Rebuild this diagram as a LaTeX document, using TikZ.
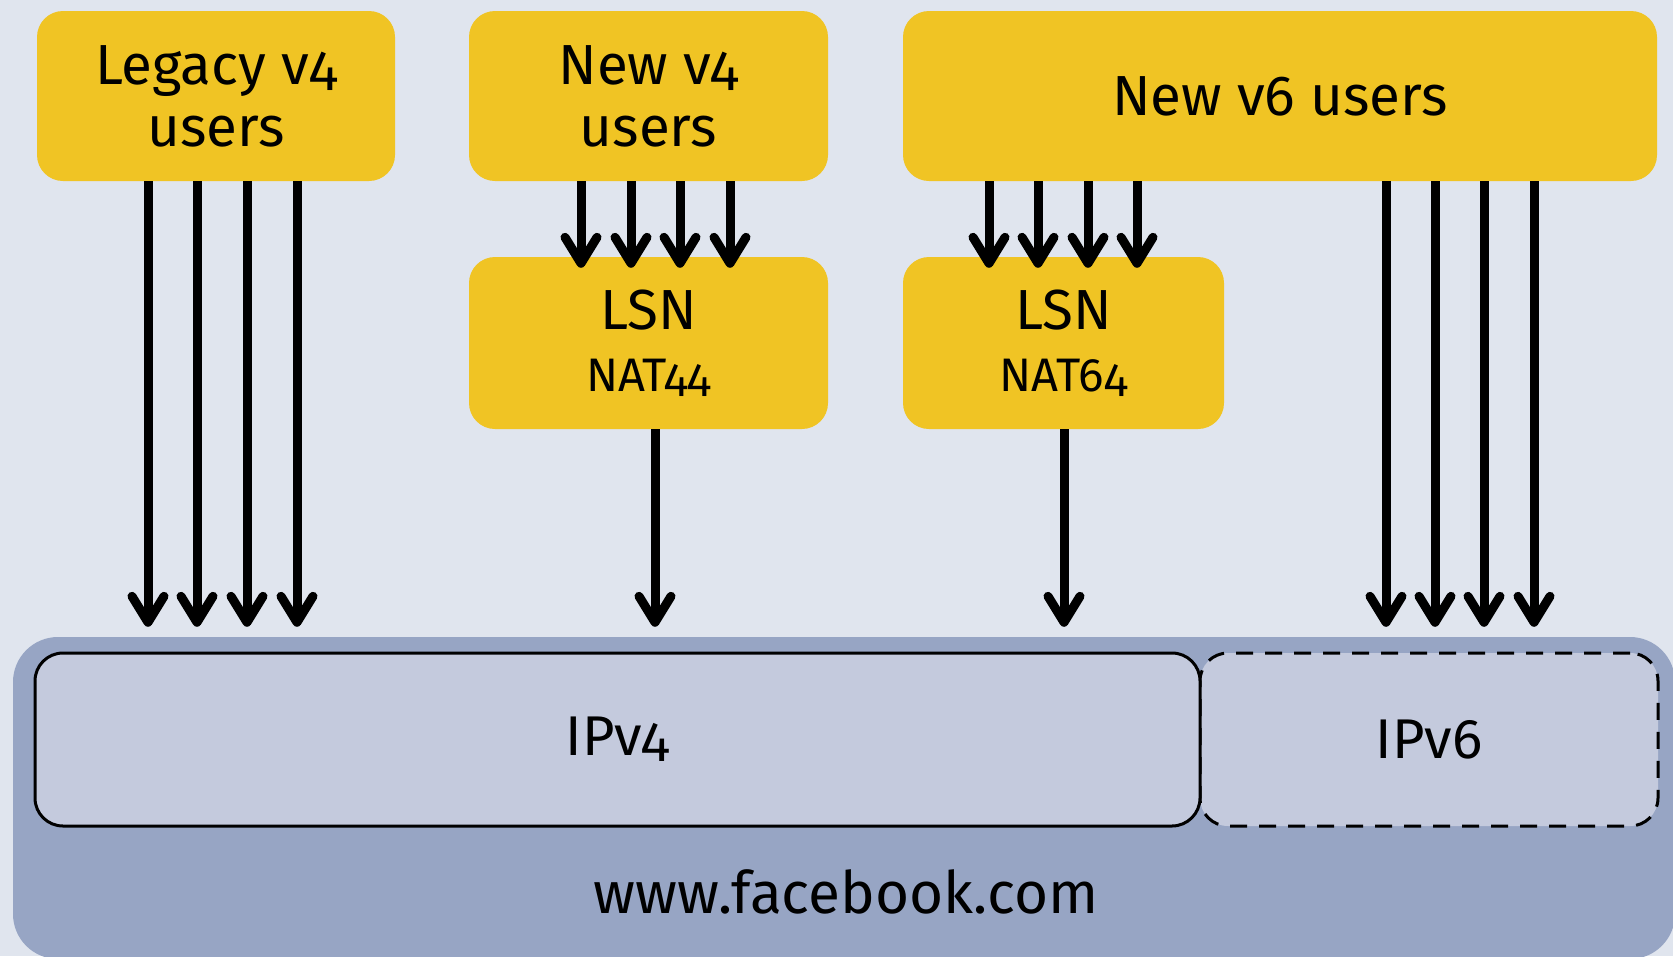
\documentclass[tikz,border=0pt]{standalone}
\usepackage{fontspec}
\setmainfont{Fira Sans}[Numbers=OldStyle]
\usetikzlibrary{arrows.meta,calc}
\definecolor{bgc}{RGB}{224,229,238}
\definecolor{yel}{RGB}{240,196,36}
\definecolor{outerc}{RGB}{151,165,196}
\definecolor{innerc}{RGB}{196,202,221}
\tikzset{
  ybox/.style={fill=yel, rounded corners=26pt, inner sep=0pt, align=center,
    font=\fontsize{56.5}{62}\selectfont},
  ipbox/.style={fill=innerc, rounded corners=28pt, line width=3pt, inner sep=0pt,
    font=\fontsize{56}{62}\selectfont},
  arr/.style={line width=9pt, -{Straight Barb[round,length=26pt,width=32pt]}},
}
\begin{document}
\begin{tikzpicture}[x=1pt,y=-1pt]
\useasboundingbox (0,0) rectangle (1673,956);
\fill[bgc] (0,0) rectangle (1673,956);
\clip (0,0) rectangle (1673,956);
% outer facebook box
\node[fill=outerc, rounded corners=45pt, minimum width=1662pt, minimum height=322pt, inner sep=0pt] (fb) at (844,798) {};
\node[font=\fontsize{58.5}{62}\selectfont] (fbtext) at (846,892) {www.facebook.com};
% inner boxes
\node[ipbox, draw, dash pattern=on 17pt off 12pt, minimum width=458pt, minimum height=173pt] (ipv6) at (1429,739.5) {IPv6};
\node[ipbox, draw, minimum width=1165pt, minimum height=173pt] (ipv4) at (617.5,739.5) {IPv4};
% yellow boxes
\node[ybox, minimum width=358pt, minimum height=170pt] (legacy) at (216,96) {Legacy v4\\users};
\node[ybox, minimum width=359pt, minimum height=170pt] (newv4) at (648.5,96) {New v4\\users};
\node[ybox, minimum width=754pt, minimum height=170pt] (newv6) at (1280,96) {New v6 users};
\node[ybox, minimum width=359pt, minimum height=172pt] (lsn44) at (648.5,343) {LSN\\{\fontsize{47}{54}\selectfont NAT44}};
\node[ybox, minimum width=321pt, minimum height=172pt] (lsn64) at (1063.5,343) {LSN\\{\fontsize{47}{54}\selectfont NAT64}};
% arrows
\foreach \x in {148,197,247,297}{
  \coordinate (t) at (\x,0);
  \draw[arr, shorten >=10pt] (legacy.south -| t) -- (fb.north -| t);
}
\foreach \x in {581,631,680,730}{
  \coordinate (t) at (\x,0);
  \draw[arr, shorten >=-11pt] (newv4.south -| t) -- (lsn44.north -| t);
}
\foreach \x in {989,1038,1088,1137}{
  \coordinate (t) at (\x,0);
  \draw[arr, shorten >=-11pt] (newv6.south -| t) -- (lsn64.north -| t);
}
\foreach \x in {1386,1435,1484,1534}{
  \coordinate (t) at (\x,0);
  \draw[arr, shorten >=10pt] (newv6.south -| t) -- (fb.north -| t);
}
\coordinate (t) at (655,0);
\draw[arr, shorten >=10pt] (lsn44.south -| t) -- (fb.north -| t);
\coordinate (t) at (1064,0);
\draw[arr, shorten >=10pt] (lsn64.south -| t) -- (fb.north -| t);
\end{tikzpicture}
\end{document}
